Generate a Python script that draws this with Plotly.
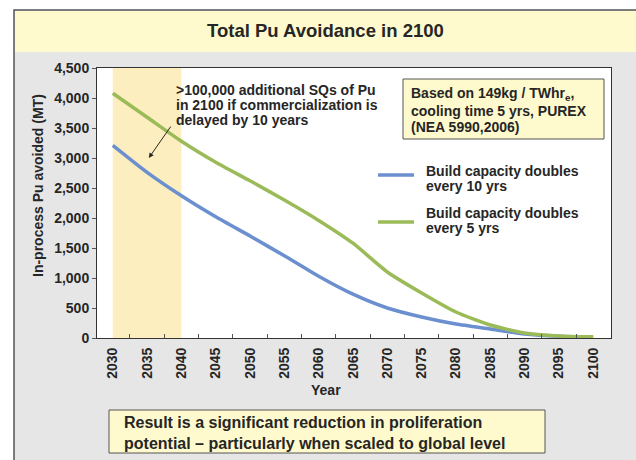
import plotly.graph_objects as go

years = [2030, 2035, 2040, 2045, 2050, 2055, 2060, 2065, 2070, 2075, 2080, 2085, 2090, 2095, 2100]
doubles_10yrs = [3210, 2760, 2370, 2020, 1700, 1370, 1030, 730, 500, 350, 233, 150, 67, 30, 15]
doubles_5yrs = [4080, 3680, 3280, 2930, 2620, 2300, 1960, 1580, 1100, 750, 433, 217, 83, 35, 20]
series_names = ["Build capacity doubles<br>every 10 yrs", "Build capacity doubles<br>every 5 yrs"]
x_ticks = list(range(2030, 2101, 5))
x_tickmarks = [v + 2.5 for v in range(2030, 2101, 5)]
y_ticks = list(range(0, 4501, 500))
delay_window = [2030, 2040]

FONT = "Arial, Liberation Sans, sans-serif"
DARK = "#262626"
BLUE = "#6B8FCF"
GREEN = "#9BBB59"

# plot area in pixels
L, R, T, B = 97, 611, 68, 338
W, H = 636, 460


def px(xp):
    return (xp - L) / (R - L)


def py(yp):
    return (B - yp) / (B - T)


fig = go.Figure()
fig.add_trace(go.Scatter(x=years, y=doubles_10yrs, mode="lines", name=series_names[0],
                         line=dict(color=BLUE, width=3.5, shape="spline", smoothing=0.6),
                         showlegend=False))
fig.add_trace(go.Scatter(x=years, y=doubles_5yrs, mode="lines", name=series_names[1],
                         line=dict(color=GREEN, width=3.5, shape="spline", smoothing=0.6),
                         showlegend=False))

shapes = []
# outer gray frame
shapes.append(dict(type="rect", xref="paper", yref="paper", x0=px(14), x1=px(660), y0=py(10), y1=py(480),
                   fillcolor="#E6E6E6", line=dict(color="#555555", width=1.5), layer="below"))
# title band
shapes.append(dict(type="rect", xref="paper", yref="paper", x0=px(15), x1=px(660), y0=py(11), y1=py(52),
                   fillcolor="#FFFACD", line=dict(width=0), layer="below"))
# white plot area
shapes.append(dict(type="rect", xref="paper", yref="paper", x0=0, x1=1, y0=0, y1=1,
                   fillcolor="white", line=dict(width=0), layer="below"))
# delay shading
shapes.append(dict(type="rect", xref="x", yref="paper", x0=delay_window[0], x1=delay_window[1], y0=0, y1=1,
                   fillcolor="#FCEEBE", line=dict(width=0), layer="below"))
# note box top right
shapes.append(dict(type="rect", xref="paper", yref="paper", x0=px(403), x1=px(604), y0=py(79), y1=py(139),
                   fillcolor="#FFFACD", line=dict(color="#555555", width=1)))
# bottom box
shapes.append(dict(type="rect", xref="paper", yref="paper", x0=px(109), x1=px(545), y0=py(410), y1=py(453),
                   fillcolor="#FFFACD", line=dict(color="#555555", width=1)))
# legend lines
shapes.append(dict(type="line", xref="paper", yref="paper", x0=px(378), x1=px(414), y0=py(175), y1=py(175),
                   line=dict(color=BLUE, width=3.5)))
shapes.append(dict(type="line", xref="paper", yref="paper", x0=px(378), x1=px(414), y0=py(222), y1=py(222),
                   line=dict(color=GREEN, width=3.5)))

ann = []


def text(s, x, y, size=14, xanchor="left", angle=0):
    ann.append(dict(text=s, xref="paper", yref="paper", x=px(x), y=py(y), xanchor=xanchor, yanchor="middle",
                    showarrow=False, textangle=angle, font=dict(family=FONT, size=size, color=DARK)))


text("<b>Total Pu Avoidance in 2100</b>", 325, 31, size=18.5, xanchor="center")
text("<b>In-process Pu avoided (MT)</b>", 38, 186, size=14, xanchor="center", angle=-90)
text("<b>Year</b>", 326, 390, size=14, xanchor="center")

for i, s in enumerate([">100,000 additional SQs of Pu", "in 2100 if commercialization is",
                       "delayed by 10 years"]):
    text("<b>" + s + "</b>", 174, 89.5 + i * 15, size=14)

for i, s in enumerate(["Based on 149kg / TWhr<sub>e</sub>,", "cooling time 5 yrs, PUREX",
                       "(NEA 5990,2006)"]):
    text("<b>" + s + "</b>", 409, 94 + i * 16.5, size=14)

for j, name in enumerate(series_names):
    for i, s in enumerate(name.split("<br>")):
        text("<b>" + s + "</b>", 424, 171 + j * 42 + i * 14.5, size=14)

for i, s in enumerate(["Result is a significant reduction in proliferation",
                       "potential \u2013 particularly when scaled to global level"]):
    text("<b>" + s + "</b>", 122, 422 + i * 21, size=16)

# arrow
ann.append(dict(x=2035.25, y=3000, xref="x", yref="y", ax=23, ay=-33, axref="pixel", ayref="pixel",
                text="", showarrow=True, arrowhead=2, arrowsize=1, arrowwidth=1, arrowcolor=DARK))

fig.update_layout(
    width=W, height=H,
    margin=dict(l=L, r=W - R, t=T, b=H - B, pad=0),
    paper_bgcolor="white", plot_bgcolor="white",
    shapes=shapes, annotations=ann,
    font=dict(family=FONT, color=DARK),
)
fig.update_xaxes(range=[2027.7, 2102.6], tickvals=x_ticks, ticktext=["<b>%d</b>" % v for v in x_ticks],
                 tickangle=-90, ticks="", ticklabelstandoff=3,
                 minor=dict(tickvals=x_tickmarks[:-1], ticks="inside", ticklen=4, tickcolor="#555555", showgrid=False),
                 showline=True, linecolor="#333333", linewidth=1, mirror=True,
                 showgrid=False, zeroline=False, tickfont=dict(size=14, family=FONT, color=DARK))
fig.update_yaxes(range=[0, 4500], tickvals=y_ticks, ticktext=["<b>{:,}</b>".format(v) for v in y_ticks],
                 ticks="outside", ticklen=4, tickcolor="#555555",
                 showline=True, linecolor="#333333", linewidth=1, mirror=True,
                 showgrid=False, zeroline=False, tickfont=dict(size=14, family=FONT, color=DARK))

fig.write_html("out.html", config={"displayModeBar": False},
               post_script="document.body.style.margin='0';document.body.style.overflow='hidden';")
